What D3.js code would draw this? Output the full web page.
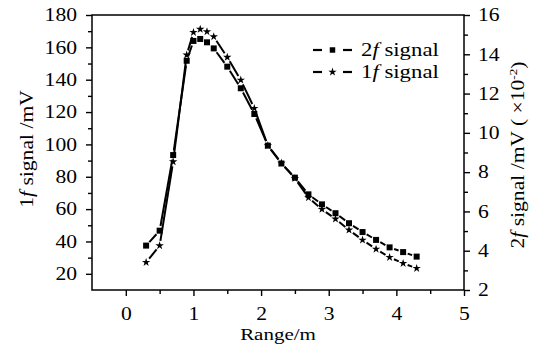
<!DOCTYPE html>
<html><head><meta charset="utf-8">
<script src="https://cdn.jsdelivr.net/npm/d3@7/dist/d3.min.js"></script>
<style>
body{margin:0;background:#fff}
text{font-family:"Liberation Serif","Times New Roman",serif;fill:#000}
</style>
</head><body>
<svg id="c" width="535" height="351"></svg>
<script>
// ---- data ----
const ranges   = [0.3,0.5,0.7,0.9,1.0,1.1,1.2,1.3,1.5,1.7,1.9,2.1,2.3,2.5,2.7,2.9,3.1,3.3,3.5,3.7,3.9,4.1,4.3];
const signal1f = [27.1,37.4,89.3,155.3,169.3,171.2,169.7,166.6,153.9,139.8,122.3,99.3,88.5,79.0,67.1,59.9,53.9,47.1,40.9,35.3,30.2,26.5,23.4];
const signal2f = [4.26,5.02,8.87,13.67,14.68,14.78,14.61,14.30,13.37,12.27,10.96,9.35,8.44,7.72,6.87,6.36,5.91,5.40,4.95,4.55,4.17,3.93,3.70];
const xTicks   = [0,1,2,3,4,5];
const xMinor   = [0.5,1.5,2.5,3.5,4.5];
const yLTicks  = [20,40,60,80,100,120,140,160,180];
const yLMinor  = [30,50,70,90,110,130,150,170];
const yRTicks  = [2,4,6,8,10,12,14,16];
const yRMinor  = [3,5,7,9,11,13,15];
const legendLabels = ["2f signal","1f signal"];

// ---- layout ----
const L=92, T=15, W=372, H=275;
const svg=d3.select("#c");
const g=svg.append("g").attr("transform",`translate(${L},${T})`);
const x=d3.scaleLinear().domain([-0.5,5]).range([0,W]);
const yL=d3.scaleLinear().domain([10,180]).range([H,0]);
const yR=d3.scaleLinear().domain([2,16]).range([H,0]);
const SX=1.2, FS=18;

function styleAxis(sel){
  sel.select(".domain").remove();
  sel.selectAll("line").attr("stroke","#000").attr("stroke-width",1.4);
  sel.selectAll("text").attr("font-size",FS);
}
// minor ticks
g.append("g").attr("transform",`translate(0,${H})`).call(d3.axisBottom(x).tickValues(xMinor).tickSize(4).tickFormat("")).call(styleAxis);
g.append("g").call(d3.axisLeft(yL).tickValues(yLMinor).tickSize(4).tickFormat("")).call(styleAxis);
g.append("g").attr("transform",`translate(${W},0)`).call(d3.axisRight(yR).tickValues(yRMinor).tickSize(4).tickFormat("")).call(styleAxis);
// major ticks
const ax=g.append("g").attr("transform",`translate(0,${H})`).call(d3.axisBottom(x).tickValues(xTicks).tickSize(6).tickPadding(11).tickFormat(d3.format("d"))).call(styleAxis);
const ayl=g.append("g").call(d3.axisLeft(yL).tickValues(yLTicks).tickSize(6).tickPadding(6.5).tickFormat(d3.format("d"))).call(styleAxis);
const ayr=g.append("g").attr("transform",`translate(${W},0)`).call(d3.axisRight(yR).tickValues(yRTicks).tickSize(6).tickPadding(5.7).tickFormat(d3.format("d"))).call(styleAxis);
[ax,ayl,ayr].forEach(a=>a.selectAll("text").attr("transform",`scale(${SX},1)`));

// frame
g.append("rect").attr("x",0).attr("y",0).attr("width",W).attr("height",H)
 .attr("fill","none").attr("stroke","#000").attr("stroke-width",1.5);

// series
const series=[
  {vals:signal2f, y:yR, sym:d3.symbolSquare, size:36},
  {vals:signal1f, y:yL, sym:d3.symbolStar, size:22}
];
const GAP=4.8;
series.forEach(s=>{
  const pts=ranges.map((r,i)=>[x(r),s.y(s.vals[i])]);
  const segs=[];
  for(let i=0;i<pts.length-1;i++){
    const [x0,y0]=pts[i],[x1,y1]=pts[i+1];
    const d=Math.hypot(x1-x0,y1-y0);
    if(d>2*GAP){
      const ux=(x1-x0)/d, uy=(y1-y0)/d;
      segs.push([[x0+ux*GAP,y0+uy*GAP],[x1-ux*GAP,y1-uy*GAP]]);
    }
  }
  g.append("g").selectAll("line").data(segs).join("line")
   .attr("x1",d=>d[0][0]).attr("y1",d=>d[0][1]).attr("x2",d=>d[1][0]).attr("y2",d=>d[1][1])
   .attr("stroke","#000").attr("stroke-width",2);
  g.append("g").selectAll("path").data(pts).join("path")
   .attr("d",d3.symbol().type(s.sym).size(s.size))
   .attr("transform",d=>`translate(${d[0]},${d[1]})`).attr("fill","#000");
});

// legend
const lg=svg.append("g");
legendLabels.forEach((lab,i)=>{
  const yy=50+i*22;
  lg.append("line").attr("x1",313).attr("x2",322).attr("y1",yy).attr("y2",yy).attr("stroke","#000").attr("stroke-width",2.2);
  lg.append("line").attr("x1",343).attr("x2",352).attr("y1",yy).attr("y2",yy).attr("stroke","#000").attr("stroke-width",2.2);
  lg.append("path").attr("d",d3.symbol().type(series[i].sym).size(i===0?30:22)).attr("transform",`translate(332.5,${yy})`).attr("fill","#000");
  const t=lg.append("text").attr("transform",`translate(361,${yy+6}) scale(${SX},1)`).attr("font-size",19);
  t.append("tspan").text(lab[0]);
  t.append("tspan").attr("font-style","italic").text("f");
  t.append("tspan").text(" " + lab.slice(3));
});

// axis titles
svg.append("text").attr("transform",`translate(${L+W/2},339.5) scale(${SX},1)`).attr("text-anchor","middle").attr("font-size",17.5).text("Range/m");
const tl=svg.append("text").attr("transform",`translate(33,149) rotate(-90) scale(${SX},1)`).attr("text-anchor","middle").attr("font-size",FS);
tl.append("tspan").text("1");
tl.append("tspan").attr("font-style","italic").text("f");
tl.append("tspan").text(" signal /mV");
const tr=svg.append("text").attr("transform",`translate(524,155) rotate(-90) scale(${SX},1)`).attr("text-anchor","middle").attr("font-size",FS);
tr.append("tspan").text("2");
tr.append("tspan").attr("font-style","italic").text("f");
tr.append("tspan").text(" signal /mV ( \u00d710");
tr.append("tspan").attr("font-size",11).attr("dy",-7).text("-2");
tr.append("tspan").attr("dy",7).text(")");
</script>
</body></html>
